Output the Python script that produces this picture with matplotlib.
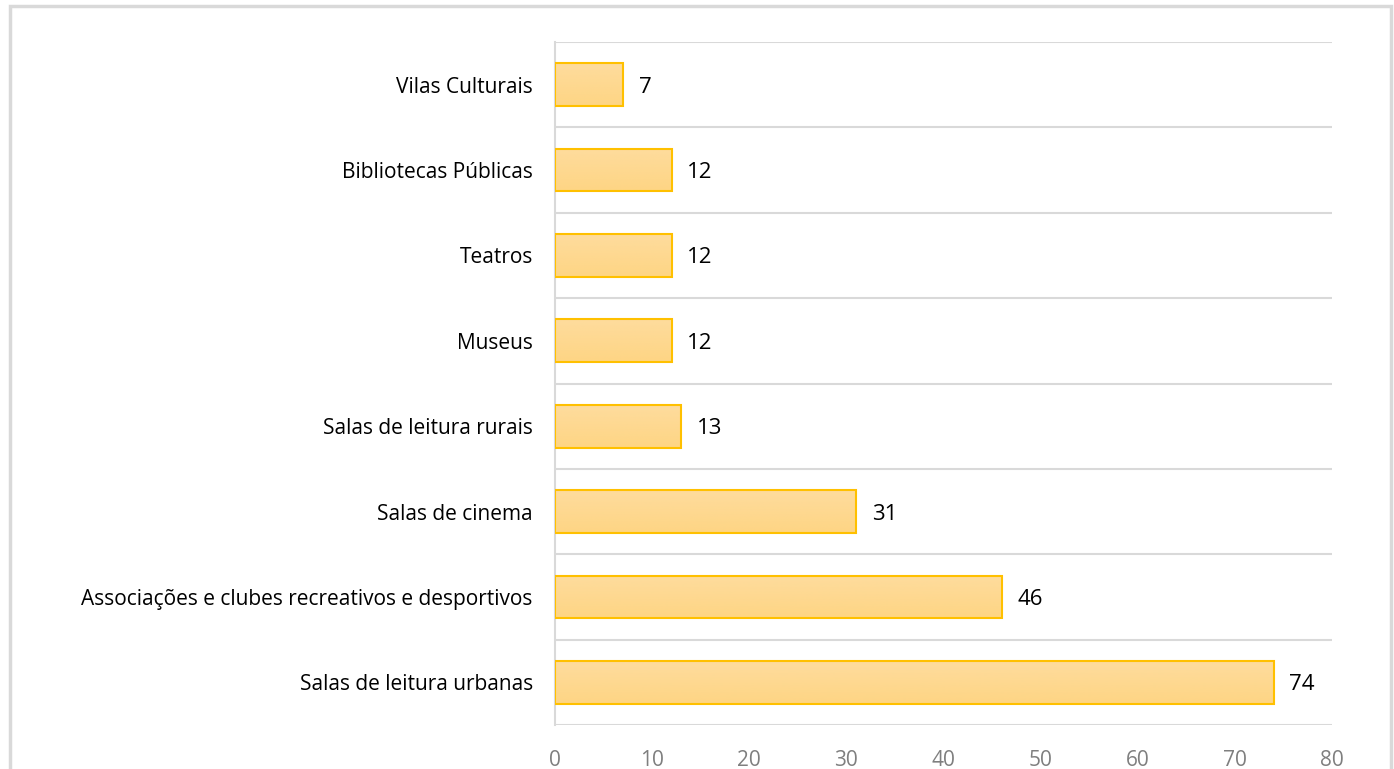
import numpy as np
import matplotlib.pyplot as plt
from matplotlib.patches import Rectangle
from matplotlib.colors import LinearSegmentedColormap

categories = ["Salas de leitura urbanas",
              "Associações e clubes recreativos e desportivos",
              "Salas de cinema",
              "Salas de leitura rurais",
              "Museus",
              "Teatros",
              "Bibliotecas Públicas",
              "Vilas Culturais"]
values = [74, 46, 31, 13, 12, 12, 12, 7]
x_ticks = [0, 10, 20, 30, 40, 50, 60, 70, 80]

plt.rcParams['font.family'] = ['Open Sans', 'DejaVu Sans']

W, H = 1394, 769
fig = plt.figure(figsize=(W / 100, H / 100), dpi=100)
ax = fig.add_axes([555 / W, 1 - 725 / H, (1332 - 555) / W, (725 - 42) / H])

# outer chart border (bottom edge runs off the image)
fig.patches.append(Rectangle((10 / W, -0.05), (1391 - 10) / W, 1.05 - 6 / H,
                             transform=fig.transFigure, fill=False,
                             edgecolor='#d9d9d9', linewidth=2.5, zorder=0))

ypos = np.arange(len(categories))
bars = ax.barh(ypos, values, height=0.5, color='none', edgecolor='#ffc000',
               linewidth=1.5, zorder=3)

# light-to-darker vertical gradient inside each bar
cmap = LinearSegmentedColormap.from_list('g', ['#fed584', '#fedc9d'])
grad = np.linspace(0, 1, 64).reshape(-1, 1)
for b in bars:
    x0, y0 = b.get_x(), b.get_y()
    im = ax.imshow(grad, cmap=cmap, aspect='auto', origin='lower',
                   extent=[x0, x0 + b.get_width(), y0, y0 + b.get_height()],
                   zorder=2)
    im.set_clip_path(b)

for y, v in zip(ypos, values):
    ax.text(v + 1.6, y - 0.03, str(v), va='center', ha='left', fontsize=16,
            color='black')

ax.set_xlim(0, 80)
ax.set_ylim(-0.5, len(categories) - 0.5)
ax.set_xticks(x_ticks)
ax.set_yticks(ypos)
ax.set_yticklabels(categories)
ax.set_yticks(np.arange(-0.5, len(categories), 1), minor=True)
ax.grid(True, which='minor', axis='y', color='#d9d9d9', linewidth=1.5)
ax.tick_params(axis='y', which='both', length=0, pad=16, labelsize=15)
ax.tick_params(axis='x', length=0, pad=18, labelsize=15, labelcolor='#7f7f7f')

for s in ['top', 'right', 'bottom']:
    ax.spines[s].set_visible(False)
ax.spines['left'].set_color('#d9d9d9')
ax.spines['left'].set_linewidth(1.5)

fig.savefig('out.png', dpi=100)
